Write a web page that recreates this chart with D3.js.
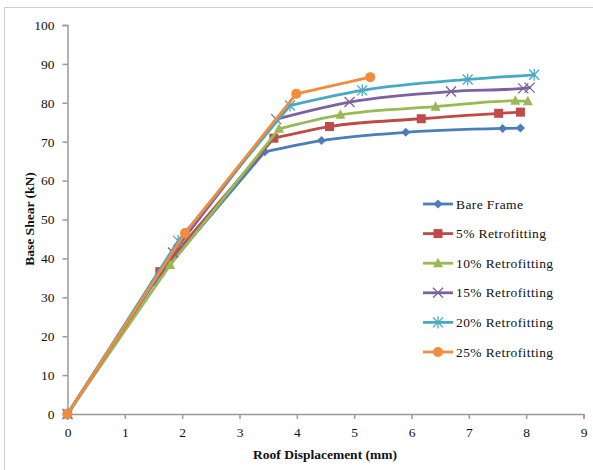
<!DOCTYPE html>
<html><head><meta charset="utf-8">
<script src="https://cdn.jsdelivr.net/npm/d3@7"></script>
<style>body{margin:0;background:#fff}svg{display:block}</style>
</head><body>
<script>
const seriesNames = ["Bare Frame","5% Retrofitting","10% Retrofitting","15% Retrofitting","20% Retrofitting","25% Retrofitting"];
const seriesColors = ["#4A7EBB","#BE4B48","#98B954","#7D60A0","#46AAC5","#F08C3C"];
const seriesMarkers = ["diamond","square","triangle","x","asterisk","circle"];
const bareFrame = [[0,0],[1.52,34.0],[3.44,67.4],[4.43,70.3],[5.9,72.4],[7.59,73.4],[7.9,73.5]];
const retro5 = [[0,0],[1.61,36.6],[3.6,70.9],[4.57,73.9],[6.17,75.9],[7.52,77.3],[7.9,77.6]];
const retro10 = [[0,0],[1.79,38.3],[3.69,73.3],[4.76,76.9],[6.42,79.0],[7.81,80.5],[8.03,80.4]];
const retro15 = [[0,0],[1.84,41.5],[3.64,75.8],[4.92,80.2],[6.69,82.9],[7.95,83.7],[8.06,83.9]];
const retro20 = [[0,0],[1.93,44.5],[3.88,79.3],[5.14,83.2],[6.98,86.0],[8.14,87.2]];
const retro25 = [[0,0],[2.05,46.5],[3.99,82.3],[5.28,86.6]];
const allSeries = [bareFrame, retro5, retro10, retro15, retro20, retro25];
const kneeIndex = 2;
const xTicks = [0,1,2,3,4,5,6,7,8,9];
const yTicks = [0,10,20,30,40,50,60,70,80,90,100];
const xTitle = "Roof Displacement (mm)";
const yTitle = "Base Shear (kN)";

const W = 593, H = 470;
const svg = d3.select("body").append("svg").attr("width", W).attr("height", H);
svg.append("rect").attr("x",4.5).attr("y",7.5).attr("width",W).attr("height",H)
  .attr("fill","none").attr("stroke","#d0d0d0");

const x = d3.scaleLinear().domain([0,9]).range([67.5,583.5]);
const y = d3.scaleLinear().domain([0,100]).range([414,25]);
const font = "Liberation Serif, DejaVu Serif, Times New Roman, serif";

const xAxis = svg.append("g").attr("transform","translate(0,414)")
  .call(d3.axisBottom(x).tickValues(xTicks).tickSize(5).tickPadding(8).tickFormat(d3.format("d")));
const yAxis = svg.append("g").attr("transform","translate(67.5,0)")
  .call(d3.axisLeft(y).tickValues(yTicks).tickSize(5).tickPadding(8).tickFormat(d3.format("d")));
[xAxis,yAxis].forEach(a=>{
  a.attr("font-family",null).attr("font-size",null);
  a.select(".domain").attr("stroke","#999").attr("stroke-width",1.5);
  a.selectAll(".tick line").attr("stroke","#999").attr("stroke-width",1.5);
  a.selectAll("text").style("font-family",font).style("font-size","13.5px").attr("fill","#111");
});

svg.append("text").attr("x",325).attr("y",459).attr("text-anchor","middle")
  .style("font-family",font).attr("font-weight","bold").style("font-size","13.5px").attr("fill","#111").text(xTitle);
svg.append("text").attr("transform","translate(34,219) rotate(-90)").attr("text-anchor","middle")
  .style("font-family",font).attr("font-weight","bold").style("font-size","13.5px").attr("fill","#111").text(yTitle);

function drawMarker(g, type, cx, cy, color){
  const s = 4.5;
  if(type==="diamond"){
    g.append("path").attr("d",`M${cx},${cy-s}L${cx+s},${cy}L${cx},${cy+s}L${cx-s},${cy}Z`).attr("fill",color);
  } else if(type==="square"){
    g.append("rect").attr("x",cx-4.5).attr("y",cy-4.5).attr("width",9).attr("height",9).attr("fill",color);
  } else if(type==="triangle"){
    g.append("path").attr("d",`M${cx},${cy-5.5}L${cx+5},${cy+4}L${cx-5},${cy+4}Z`).attr("fill",color);
  } else if(type==="x"){
    g.append("path").attr("d",`M${cx-5},${cy-5}L${cx+5},${cy+5}M${cx-5},${cy+5}L${cx+5},${cy-5}`)
      .attr("stroke",color).attr("stroke-width",1.3).attr("fill","none");
  } else if(type==="asterisk"){
    g.append("path").attr("d",`M${cx-5},${cy-5}L${cx+5},${cy+5}M${cx-5},${cy+5}L${cx+5},${cy-5}M${cx},${cy-6}L${cx},${cy+6}`)
      .attr("stroke",color).attr("stroke-width",1.3).attr("fill","none");
  } else if(type==="circle"){
    g.append("circle").attr("cx",cx).attr("cy",cy).attr("r",5).attr("fill",color);
  }
}

const lineStraight = d3.line().x(d=>x(d[0])).y(d=>y(d[1])).curve(d3.curveLinear);
const lineSmooth = d3.line().x(d=>x(d[0])).y(d=>y(d[1])).curve(d3.curveMonotoneX);
allSeries.forEach((data,i)=>{
  const g = svg.append("g");
  const pre = data.slice(0, kneeIndex+1), post = data.slice(kneeIndex);
  [[pre,lineStraight],[post,lineSmooth]].forEach(([seg,gen])=>{
    g.append("path").datum(seg).attr("d",gen).attr("fill","none")
      .attr("stroke",seriesColors[i]).attr("stroke-width",2.8)
      .attr("stroke-linejoin","round").attr("stroke-linecap","round");
  });
  data.forEach(d=>drawMarker(g, seriesMarkers[i], x(d[0]), y(d[1]), seriesColors[i]));
});

const legend = svg.append("g");
seriesNames.forEach((name,i)=>{
  const ly = 204 + i*29.6;
  legend.append("line").attr("x1",423).attr("x2",453).attr("y1",ly).attr("y2",ly)
    .attr("stroke",seriesColors[i]).attr("stroke-width",2.8);
  drawMarker(legend, seriesMarkers[i], 438, ly, seriesColors[i]);
  legend.append("text").attr("x",456).attr("y",ly+4.5).style("font-family",font).style("font-size","13.5px")
    .attr("letter-spacing","0.4").attr("fill","#111").text(name);
});
</script>
</body></html>
